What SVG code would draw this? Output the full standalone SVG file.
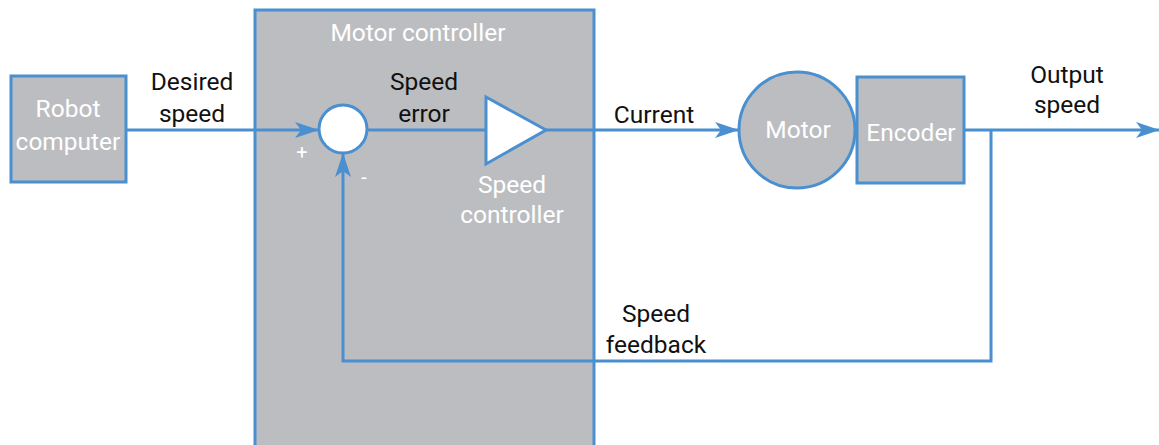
<svg xmlns="http://www.w3.org/2000/svg" width="1159" height="445" viewBox="0 0 1159 445">
  <style>
    .box { fill: #bcbdc0; stroke: #4a8fd0; stroke-width: 3; }
    .wire { fill: none; stroke: #4a8fd0; stroke-width: 3; }
    .op { fill: #ffffff; stroke: #4a8fd0; stroke-width: 3; }
    text { font-family: Roboto, "Liberation Sans", sans-serif; font-size: 24.5px; text-anchor: middle; }
    .dark { fill: #111111; }
    .light { fill: #ffffff; }
    .sign { font-size: 20px; }
  </style>
  <defs>
    <marker id="arrow" viewBox="0 0 24 16" refX="23" refY="8" markerWidth="24" markerHeight="16" markerUnits="userSpaceOnUse" orient="auto">
      <path d="M0,0 L24,8 L0,16 L6,8 Z" fill="#4a8fd0"/>
    </marker>
  </defs>

  <rect width="1159" height="445" fill="#ffffff"/>

  <!-- Motor controller enclosure -->
  <g id="motor-controller">
    <rect class="box" x="255" y="10" width="339" height="450"/>
    <text class="light" x="418" y="41">Motor controller</text>
  </g>

  <!-- Robot computer -->
  <g id="robot-computer">
    <rect class="box" x="11" y="76" width="115" height="106"/>
    <text class="light" x="68" y="117">Robot</text>
    <text class="light" x="68" y="150">computer</text>
  </g>

  <!-- Connectors -->
  <g id="connectors">
    <line class="wire" x1="126" y1="130" x2="318" y2="130" marker-end="url(#arrow)"/>
    <line class="wire" x1="367" y1="130" x2="486" y2="130"/>
    <line class="wire" x1="546" y1="130" x2="738" y2="130" marker-end="url(#arrow)"/>
    <line class="wire" x1="964" y1="130" x2="1159" y2="130" marker-end="url(#arrow)"/>
    <polyline class="wire" points="991,130 991,361 343,361 343,154" marker-end="url(#arrow)"/>
  </g>

  <!-- Summing junction -->
  <g id="summing-junction">
    <circle class="op" cx="343" cy="129" r="24"/>
    <text class="light sign" x="302" y="159">+</text>
    <text class="light sign" x="364" y="184">-</text>
  </g>

  <!-- Speed controller gain -->
  <g id="speed-controller">
    <polygon class="op" points="486,97 546,130 486,164"/>
    <text class="light" x="512" y="193">Speed</text>
    <text class="light" x="512" y="223">controller</text>
  </g>

  <!-- Motor -->
  <g id="motor">
    <circle class="box" cx="797" cy="130" r="58"/>
    <text class="light" x="798" y="138">Motor</text>
  </g>

  <!-- Encoder -->
  <g id="encoder">
    <rect class="box" x="857" y="77" width="107" height="106"/>
    <text class="light" x="911" y="141">Encoder</text>
  </g>

  <!-- Signal labels -->
  <g id="labels">
    <text class="dark" x="192" y="90">Desired</text>
    <text class="dark" x="192" y="122">speed</text>
    <text class="dark" x="424" y="90">Speed</text>
    <text class="dark" x="424" y="122">error</text>
    <text class="dark" x="654" y="123">Current</text>
    <text class="dark" x="1067" y="83">Output</text>
    <text class="dark" x="1067" y="113">speed</text>
    <text class="dark" x="656" y="322">Speed</text>
    <text class="dark" x="656" y="353">feedback</text>
  </g>
</svg>
